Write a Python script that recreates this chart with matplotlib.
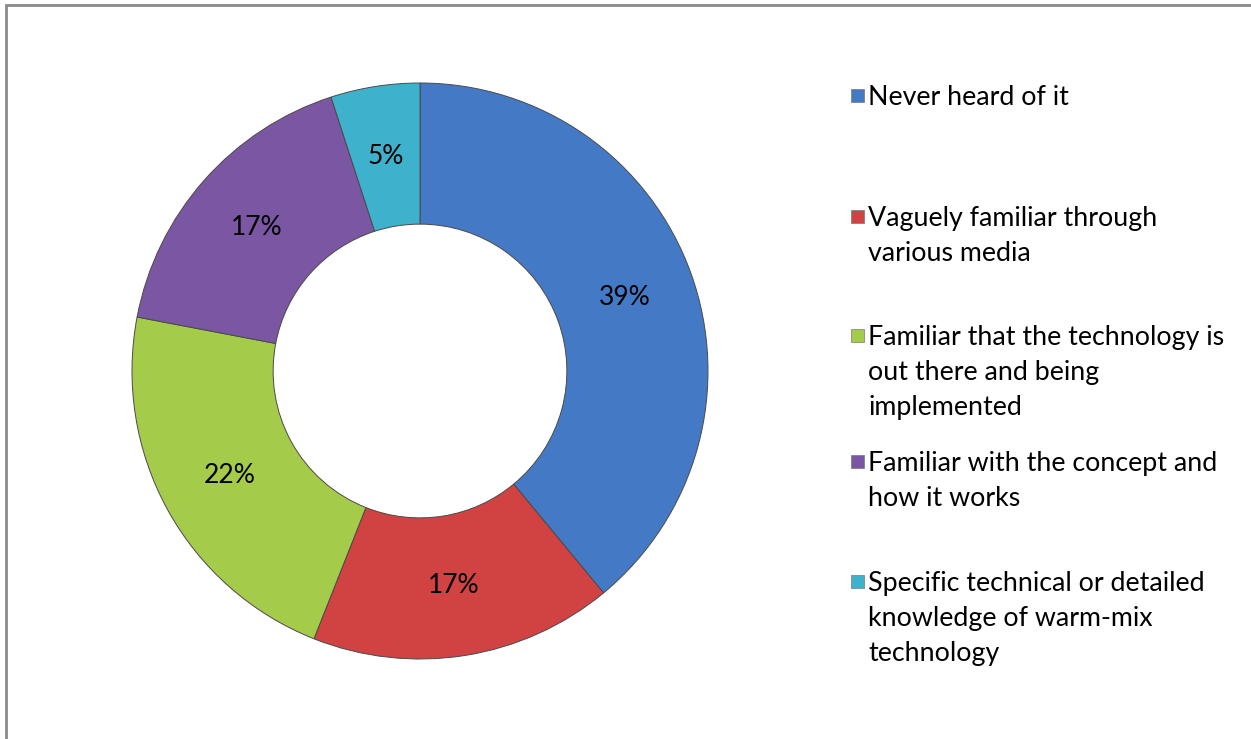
import matplotlib.pyplot as plt
from matplotlib.patches import Rectangle

labels = ['Never heard of it',
          'Vaguely familiar through\nvarious media',
          'Familiar that the technology is\nout there and being\nimplemented',
          'Familiar with the concept and\nhow it works',
          'Specific technical or detailed\nknowledge of warm-mix\ntechnology']
values = [39, 17, 22, 17, 5]
colors = ['#4479C6', '#D04342', '#A5CB4A', '#7B56A2', '#3EB1CD']

W, H = 1251, 739
plt.rcParams['font.family'] = ['Lato', 'DejaVu Sans']

fig = plt.figure(figsize=(W / 100, H / 100), dpi=100)

# outer chart border (right/bottom are cut off in the original)
fig.patches.append(Rectangle((6 / W, -0.1), 1.2, (H - 5) / H + 0.1,
                             transform=fig.transFigure, fill=False,
                             edgecolor='#8a8a8a', linewidth=2))

# donut: centre (420, 370) px, outer radius 288 px
R = 288
cx, cy = 420, 371
half = 300
ax = fig.add_axes([(cx - half) / W, (H - cy - half) / H, 2 * half / W, 2 * half / H])
wedges, texts, autotexts = ax.pie(values, colors=colors, startangle=90, counterclock=False,
                                  autopct='%d%%', pctdistance=0.755,
                                  wedgeprops=dict(width=0.49, edgecolor='#4a4a4a', linewidth=0.7),
                                  textprops=dict(fontsize=19, color='black'))
ax.set_xlim(-half / R, half / R)
ax.set_ylim(-half / R, half / R)
ax.axis('off')

# legend, placed like the original
legend_y = [96, 217, 336, 462, 582]
for lab, col, y in zip(labels, colors, legend_y):
    fig.patches.append(Rectangle((851 / W, 1 - (y + 6) / H), 13 / W, 13 / H,
                                 transform=fig.transFigure, facecolor=col,
                                 edgecolor='#777777', linewidth=0.5))
    fig.text(868 / W, 1 - (y - 11) / H, lab, fontsize=19.3, va='top', ha='left',
             linespacing=1.5)

fig.savefig('out.png', dpi=100)
